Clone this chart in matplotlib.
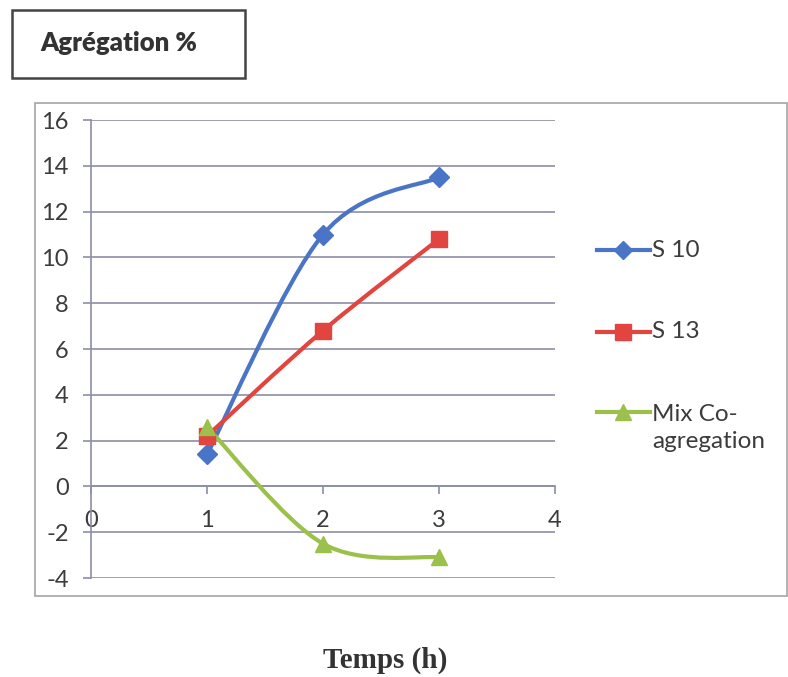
import numpy as np
import matplotlib as mpl
mpl.use("Agg")
import matplotlib.pyplot as plt
from matplotlib.path import Path
from matplotlib.patches import PathPatch, Rectangle
from matplotlib.lines import Line2D

# data
HOURS = [1, 2, 3]
S10 = [1.4, 11.0, 13.5]
S13 = [2.2, 6.8, 10.8]
MIX = [2.6, -2.5, -3.1]
LABELS = ["S 10", "S 13", "Mix Co-\nagregation"]
X_TICKS = [0, 1, 2, 3, 4]
Y_TICKS = list(range(-4, 17, 2))

BLUE, RED, GREEN = "#4a74c6", "#e2443f", "#9bc04c"
GRID, INK, FRAME = "#8c8ea6", "#3c3c3c", "#a4a4a4"

mpl.rcParams.update({
    "font.family": ["Lato", "DejaVu Sans"],
    "axes.unicode_minus": False,
    "figure.dpi": 100,
})


def smooth_path(x, y):
    # Excel-style smoothed line: Catmull-Rom through the points as cubic Beziers
    pts = np.column_stack([x, y]).astype(float)
    n = len(pts)
    verts, codes = [pts[0]], [Path.MOVETO]
    for i in range(n - 1):
        p0, p1 = pts[max(i - 1, 0)], pts[i]
        p2, p3 = pts[i + 1], pts[min(i + 2, n - 1)]
        verts += [p1 + (p2 - p0) / 6, p2 - (p3 - p1) / 6, p2]
        codes += [Path.CURVE4] * 3
    return Path(verts, codes)


def fx(px):
    return px / 788


def fy(py):
    return 1 - py / 677


fig = plt.figure(figsize=(7.88, 6.77))

# outer chart frame and title box
fig.patches.append(Rectangle((fx(35), fy(596)), fx(752), 493 / 677,
                             transform=fig.transFigure, fill=False,
                             ec=FRAME, lw=1.2))
fig.patches.append(Rectangle((fx(12), fy(78)), fx(233), 68 / 677,
                             transform=fig.transFigure, fill=False,
                             ec="#444444", lw=1.8))
fig.text(fx(40), fy(43), "Agrégation %", fontsize=18.5,
         fontweight="heavy", color="#333333", va="center", ha="left")

ax = fig.add_axes([0.1155, 0.1462, 0.5888, 0.6765])
ax.set_xlim(0, 4)
ax.set_ylim(-4, 16)
ax.set_xticks(X_TICKS)
ax.set_yticks(Y_TICKS)
ax.grid(axis="y", color=GRID, linewidth=1.2)
ax.set_axisbelow(True)
for s in ["top", "right"]:
    ax.spines[s].set_visible(False)
ax.spines["bottom"].set_position(("data", 0))
for s in ["bottom", "left"]:
    ax.spines[s].set_color(GRID)
    ax.spines[s].set_linewidth(1.2)
ax.tick_params(axis="y", length=6, width=1.2, color=GRID, labelsize=17,
               labelcolor=INK, pad=10)
ax.tick_params(axis="x", length=6, width=1.2, color=GRID, labelsize=17,
               labelcolor=INK, pad=11)

series = [(S10, BLUE, "D", 10), (S13, RED, "s", 12), (MIX, GREEN, "^", 12)]
for vals, col, mk, ms in series:
    ax.add_patch(PathPatch(smooth_path(HOURS, vals), fill=False, ec=col,
                           lw=3, capstyle="round", zorder=3))
    ax.plot(HOURS, vals, ls="none", marker=mk, ms=ms, color=col,
            mec=col, zorder=4, clip_on=False)

# legend drawn by hand so the two-line label lines up like the original
legend_y = [250, 332, 412]
for (vals, col, mk, ms), lab, py in zip(series, LABELS, legend_y):
    fig.add_artist(Line2D([fx(597), fx(650)], [fy(py), fy(py)],
                          transform=fig.transFigure, color=col, lw=3))
    fig.add_artist(Line2D([fx(623)], [fy(py)], transform=fig.transFigure,
                          color=col, marker=mk, ms=ms - 1, ls="none"))
    nlines = lab.count("\n")
    fig.text(fx(652), fy(py + 16 * nlines), lab, fontsize=17.5, color=INK,
             ha="left", va="center", linespacing=1.3)

fig.text(fx(385), fy(660), "Temps (h)", fontsize=21,
         fontweight="bold", family=["Liberation Serif", "DejaVu Serif"],
         color="#333333", ha="center", va="center")

fig.savefig("out.png", dpi=100)
